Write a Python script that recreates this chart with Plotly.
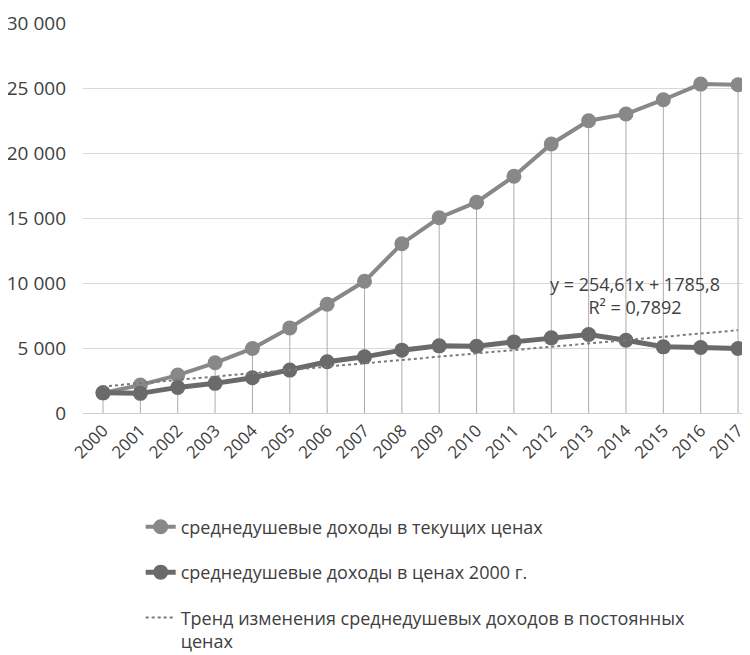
import plotly.graph_objects as go

years = list(range(2000, 2018))
year_labels = [str(y) for y in years]
current_prices = [1550, 2150, 2916, 3860, 4965, 6547, 8365, 10130, 13024, 15020,
                  16217, 18212, 20698, 22486, 23000, 24098, 25300, 25250]
constant_prices = [1550, 1510, 1970, 2280, 2710, 3300, 3940, 4320, 4835, 5165,
                   5140, 5470, 5780, 6035, 5600, 5090, 5040, 4965]
trend_slope = 254.61
trend_intercept = 1785.8
trend_r2 = "0,7892"
y_ticks = [0, 5000, 10000, 15000, 20000, 25000, 30000]

name_cur = "среднедушевые доходы в текущих ценах"
name_const = "среднедушевые доходы в ценах 2000 г."
name_trend = "Тренд изменения среднедушевых доходов в постоянных<br>ценах"

trend_vals = [trend_slope * (i + 1) + trend_intercept for i in range(len(years))]

FONT = "Open Sans"
fig = go.Figure()

# drop lines
dx, dy = [], []
for x, v in zip(years, current_prices):
    dx += [x, x, None]
    dy += [0, v, None]
fig.add_trace(go.Scatter(x=dx, y=dy, mode="lines", showlegend=False, hoverinfo="skip",
                         line=dict(color="#acacac", width=1)))

fig.add_trace(go.Scatter(x=years, y=current_prices, name=name_cur, legendgroup="a",
                         mode="lines+markers",
                         line=dict(color="#888888", width=4),
                         marker=dict(color="#888888", size=15)))
fig.add_trace(go.Scatter(x=years, y=constant_prices, name=name_const, legendgroup="b",
                         mode="lines+markers",
                         line=dict(color="#6a6a6a", width=5),
                         marker=dict(color="#6a6a6a", size=15)))
fig.add_trace(go.Scatter(x=years, y=trend_vals, name=name_trend, legendgroup="c",
                         mode="lines",
                         line=dict(color="#7a7a7a", width=2, dash="dot")))

fig.add_annotation(x=2014.25, y=9020, xref="x", yref="y",
                   text=f"y = {str(trend_slope).replace('.', ',')}x + {str(trend_intercept).replace('.', ',')}<br>R² = {trend_r2}",
                   showarrow=False, yanchor="middle", xanchor="center",
                   font=dict(family=FONT, size=18, color="#404040"), align="center")

fig.update_layout(
    width=750, height=655,
    margin=dict(l=75, r=8, t=15, b=250, autoexpand=False),
    plot_bgcolor="white", paper_bgcolor="white",
    separators=", ",
    font=dict(family=FONT, size=18, color="#404040"),
    xaxis=dict(type="linear", range=[1999.464, 2017.32], tickmode="array", tickvals=years,
               ticktext=year_labels, tickangle=-45, showgrid=False, zeroline=False,
               showline=True, linecolor="#d0d0d0", linewidth=1, ticks="",
               tickfont=dict(family=FONT, size=17, color="#404040")),
    yaxis=dict(range=[0, 30000], tickmode="array", tickvals=y_ticks, tickformat=",d",
               showgrid=True, gridcolor="#d9d9d9", gridwidth=1, zeroline=False,
               showline=False, ticks="", ticklabelstandoff=16,
               tickfont=dict(family=FONT, size=19, color="#404040")),
    legend=dict(x=0.0865, y=-0.245, xanchor="left", yanchor="top", tracegroupgap=19,
                valign="top",
                font=dict(family=FONT, size=18, color="#404040"), bgcolor="rgba(0,0,0,0)"),
    showlegend=True,
)

fig.write_html("out.html")
